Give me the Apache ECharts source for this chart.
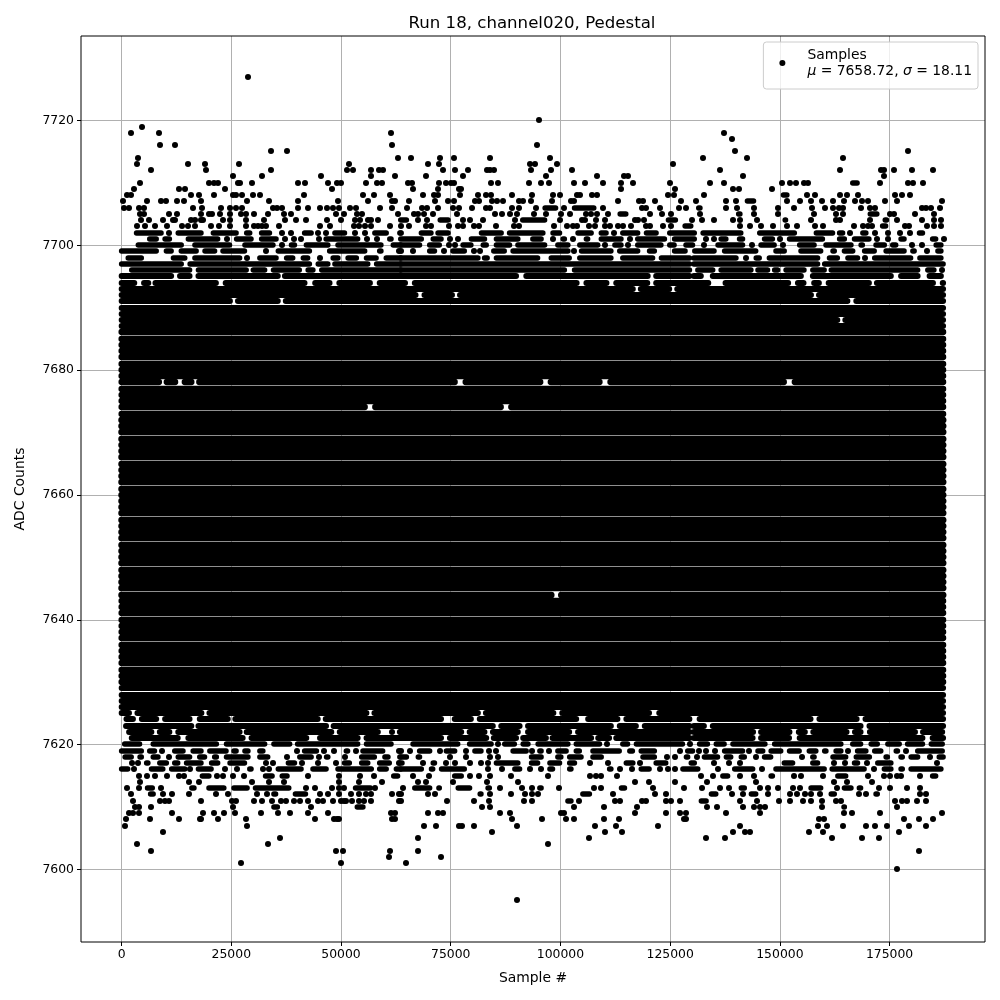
<!DOCTYPE html>
<html><head><meta charset="utf-8">
<script src="https://cdn.jsdelivr.net/npm/echarts@6/dist/echarts.min.js"></script>
<style>html,body{margin:0;padding:0;background:#fff}#c{width:1000px;height:1000px}</style>
</head><body><div id="c"></div>
<script>
const xTicks=[0,25000,50000,75000,100000,125000,150000,175000];
const yTicks=[7600,7620,7640,7660,7680,7700,7720];
// x values are in thousands of samples. A plain number is one sample, a pair is an unbroken run of samples.
const topRows=[
[7727,[28.7]],
[7719,[4.6]],[7718,[2.1,8.5,61.3]],[7716,[8.7,12.1,61.6]],[7715,[34.0,37.6]],[7714,[3.7,63.0]],
[7713,[3.6,15.1,19.0,26.7,51.8]],[7712,[6.7,19.2,34.0,51.3,52.7,56.8,58.6,59.5]],[7711,[25.3,32.0,45.4,56.8,62.2]],
[7710,[4.2,19.9,21.0,21.9,26.5,27.0,29.7,40.1,41.7,47.0,49.0,49.9,55.6,58.1,59.3]],
[7709,[2.8,13.1,14.4,23.5,47.9]],
[7708,[1.2,2.1,15.8,17.6,21.0,25.3,26.0,27.4,29.9,31.5,41.5,55.0,57.5,61.1]],
[7707,[0.3,5.8,9.0,10.1,12.6,14.2,18.1,28.5,33.5,40.1,49.3,56.1,61.6,62.2]],
[7706,[0.5,1.7,4.0,5.1,16.2,18.3,22.6,24.7,26.0,27.4,34.5,35.4,36.5,40.1,42.4,45.3,46.8,48.1,49.5,52.0,53.4,58.8,61.6]],
[7705,[4.2,5.1,10.8,12.6,18.1,19.9,20.6,22.4,24.7,27.2,28.3,30.2,33.3,37.0,38.6,48.8,50.6,53.6,54.7,63.0]],
[7704,[4.4,6.2,9.4,11.7,12.1,15.8,16.7,18.1,18.5,23.1,24.7,28.3,32.4,37.2,39.7,42.0,46.8,50.0,53.1,54.3,56.1,56.8,58.4]],
[7703,[3.5,5.3,7.6,10.3,13.7,15.1,16.7,20.3,22.2,24.7,28.3,30.1,31.0,32.0,32.9,35.8,45.3,47.4,52.9,54.0,55.4,56.8,61.1]],
[7702,[[0.5,1.7],[2.8,9.6],10.8,[12.3,18.7],[20.3,26.7],[27.9,29.8],[31.3,34.3],36.6,38.5,[41.1,43.8],44.7,46.5,[48,51.4],53.1,55.4,[57.1,60.9],[62.8,64.2]]],
[7701,[[0.5,1.3],[2.4,3.6],[5.8,8.5],[9.3,11.5],[14.6,22.5],24.1,[25.6,30.1],[31.3,35.8],37.3,39.2,40.8,[42.7,43.4],45,[46,54.4],56,58.2,[60.5,62]]],
[7700,[[0.5,0.9],[3.2,14.2],[16.1,25.2],[27.5,35.1],36.6,[38.1,40],[41.5,47.6],[48.7,59.7],[61.3,64.2]]],
[7699,[[-0.6,8.5],[9.6,11.9],[13,17.6],[18.4,21.8],[22.5,28.6],32.8,[35.1,43.4],[44.6,45.7],[46.8,56],[58.2,59.7],[60.9,61.6],63.1]],
[7698,[[0.9,5.1],[6.2,7],[8.9,9.6],[11.2,15],[16.1,27.5],28.6,[30.9,35.8],[37,39.6],[40.8,43],45.3,[47.6,49.9],[51,54.1],[55.2,58.6],[59.7,64.2]]],
[7697,[[-0.6,14.2],[15,43.4],[44.2,47.6],[48,56.7],[57.5,64.2]]],
[7696,[[-0.6,0.5],[1.7,16.1],[16.9,29],[29.4,33.2],[34,41.1],[41.9,44.2],[45,64.2]]],
[7695,[[-0.6,11.9],[12.7,16.1],[16.9,36.2],[36.6,64.2]]],
[7720,[95.0]],[7716,[94.6]],[7714,[65.9,72.5,75.7,83.9,97.6]],
[7713,[69.8,72.3,93,94.1,99.1,125.6]],[7712,[73.2,75.9,78.9,83.2,83.9,84.8,93.2,97.8,102.6]],
[7711,[69.3,77.7,96.6,114.4,115.5,108.3]],
[7710,[65.2,66.1,72.3,73.9,75,75.7,84.1,85.7,92.8,95.5,97.3,103,105.7,109.6,113.9,116.5,124.9]],
[7709,[66.4,72.1,76.8,77.3,113.9,126.2]],
[7708,[68.6,71.1,72.1,77.1,81.2,83,84.1,88.9,93.5,98.2,99.8,103.8,104.4,107.1,108.3,124.6,125.8]],
[7707,[65.5,71.4,74.3,75.7,80.5,81.4,84.3,85.5,86.9,90.5,91.4,93.2,98,102.3,103,113,118,118.7,121.5,127.4]],
[7706,[65,68.4,69.5,72.1,75.5,76.8,79.8,83,83.9,88.9,90.5,94.4,[95.9,99.5],100.7,[102.6,108.2],109.8,118.5,119.6,122.6,127.1,128.5]],
[7705,[66.6,67.5,68.9,70.9,76.4,85,86.6,88.6,90,93.9,96.6,100.1,102.1,105.8,106.9,108.3,110.8,[113,115.5],120.5,123.1,125.1]],
[7704,[[63,65.5],67.5,69.5,[72,75],77.7,79.3,82.3,89.6,[90.8,97],99.8,104.9,105.7,108,110.1,117.1,117.6,119,[124,126.8],129.9]],
[7703,[63.6,65.5,69.3,70.5,74.6,76.6,77.7,80.3,81.4,85.3,89.4,90.5,98.5,101.4,102.8,103.7,106.4,107.8,110.1,111.4,113,114.2,116,119.6,120.5,123.3,125.3,[127.8,130.3]]],
[7702,[[63,64.3],[67.7,71.1],[71.5,75],[75.7,76.8],[78.7,79.9],[81.4,87.1],[87.8,96.6],[97.7,100.4],[103.4,107.6],[108.7,111],112.1,[113.6,118.2],[119,122.4],[124.3,131.1]]],
[7701,[[63,68.9],[70.4,73.4],74.9,76.6,[79.1,83.3],[84.8,90.9],[93.1,96.2],98.3,[100,101.5],102.9,[105.3,106.8],[108.7,114.4],115.9,[117,124.3],[125.4,131.1]]],
[7700,[[63,68.5],[69.6,73],74.6,76,[77.2,80.2],[81.8,83.7],[84.8,89],[89.7,97],[98.8,102.3],[103.8,109.1],110.2,[111.8,114.4],115.5,[117,123.5],[124.3,126.5],[128,130.7]]],
[7699,[63.6,66.4,[69.6,71.9],73.4,[74.9,78.7],80.4,81.6,[84.2,87.8],[88.6,102.3],103,[104.2,112.1],[112.9,118.2],[119.7,122],[125.4,129]]],
[7698,[[63,81.8],[82.1,83.9],[84.8,95.4],[97.3,102.6],[103.8,112.1],[113.6,121.6],[122.4,130]]],
[7697,[[63,130]]],[7696,[[63,101.5],[102.6,130]]],[7695,[[63,90.5],[91.6,120.5],[121.2,130]]],
[7718,[137.2]],[7717,[139.2]],[7715,[139.7,179.1]],[7714,[132.4,142.4,164.3]],
[7712,[136.3,163.6,173.1,173.8,175.9,180.2,184.8]],[7711,[141.7,173.8]],
[7710,[134.1,137.2,150.4,152.4,153.6,155.6,156.5,[166,168.2],172.9,179.1,180.4,182.5]],
[7709,[139.4,140.6,148.3]],
[7708,[132.8,[150.2,152.2],156.1,158.1,163.8,165.4,167.9,176.3,177.9,179.7]],
[7707,[130.8,137.8,140.1,[142,144.6],151.7,154.5,157,159.5,162.2,164.7,167.2,168.6,170,174,176.6,187]],
[7706,[[130.9,132.4],137.8,140.2,144,149.5,153.3,157.4,160.2,162,163.4,164.3,168.4,170.6,171.6,182.3,183.4,184.5,186.6]],
[7705,[131.7,[136.6,137.7],[140,141.5],144,149.5,[152.5,153.3],157.7,162.7,164.3,[170,172.7],175.2,176.1,180.7,185.2]],
[7704,[132.3,134.9,139.4,140.8,144.9,[150.6,151.9],157.2,162.7,163.6,170.6,[173.4,174.9],176.8,182.3,185.2,186.8]],
[7703,[[132.6,133.8],[138.7,139.4],140.8,143.1,145.6,148.5,151.6,153.8,157.9,159.9,166.8,169,170,170.9,[172.8,174.7],178.6,179.5,183.5,185.2,186.8]],
[7702,[[131.9,141.7],[142.9,144],[144.8,153.9],[157.7,162.6],[163,164.9],166,[168.3,170.2],171.6,174.7,177.4,179.7,[181.2,183.1],[184.2,185.4],[186.1,187.3]]],
[7701,[133.2,134.9,[136,138.3],[140.2,142.1],[145.9,148.9],150.1,[151.6,160.3],[163,165.3],[166.4,170.9],172.2,174.7,[177,178.9],[182,182.7],[184.2,186.1],187.3]],
[7700,[132.6,[135.3,142.1],143.6,[145.1,149.3],150.8,[153.9,158.4],[159.9,166.8],[167.9,169.4],[171.3,174.4],[175.1,177],180,182.3,[185,187.3]]],
[7699,[[130,135.6],[136.8,145.1],[148.5,151.6],[152.3,153.5],[154.2,159.9],[161.5,163],[164.1,167.2],[168.7,172.1],[173.6,178.9],[179.7,181.2],183.5,[185.4,187.3]]],
[7698,[[129.8,140.6],142.3,[144,145.9],[147,159.2],[160.7,163.7],[164.9,168.3],169.4,[171,180.4],[181.3,187.3]]],
[7697,[[129.8,159.2],[159.6,187.8]]],
[7696,[[130.7,135.3],[136,144],[144.4,147.8],[148.2,150.1],[150.8,156.1],[156.9,160.7],[161.1,182],[183.1,185.7],187]],
[7695,[[129.8,132.6],[134.1,155.4],[156.9,175.9],[177,182],[183.5,187.3]]]
];
const bottomRows=[
[7601,[27.2,49.9]],[7602,[60.9]],[7603,[6.7,48.8,50.4,61.1]],[7604,[3.5,33.3]],[7605,[36.1]],[7606,[9.4]],[7607,[0.8,28.5]],
[7608,[1,6.5,13,17.8,18.2,21.9,28.3,44,48.4,49,49.5,61.6,62.4]],
[7609,[1.7,2.6,4,11.5,18.5,21,23.3,25.8,31.7,35.6,38.3,42.4,47,61.3,62.4]],
[7610,[3,4,6.7,25.4,[34.1,36.1],43.1,[53.1,55.6]]],
[7611,[2.6,8.7,9.8,10.8,18.1,25.2,26,30.1,32.1,34.2,36.3,37.4,39.2,40.6,42.4,44.7,45.8,48.1,49.9,50.6,51.2,52.5,54.1,55.2,56.8,63.1]],
[7612,[2.1,[6,7.8],9.4,11.5,15.3,21.5,24.2,30.8,33.1,[34.1,35.7],[39,42.5],45.3,47,49.5,52.2,54.1,55.6,56.8,61.6,63.1]],
[7613,[1.2,4,[5.3,7.6],9,[15.4,17.1],[19.3,23.9],[25,29.2],[29.9,38.7],42,44,47.9,49.5,50.6,[52.7,57.3],57.7]],
[7614,[4.2,15.3,17.6,29.7,33.5,37,49.5,54.1,59.3]],
[7615,[4,5.8,7.6,10.3,13,14.2,[17.8,20.5],21.7,23.1,25.4,27.9,[32.2,34.9],[36,38.3],42.4,49.5,54.3,57.5,[61.4,63.5]]],
[7616,[[-0.6,2],2.8,[4.3,5.5],[6.2,10],[10.8,15],15.7,[16.9,21],23.5,26.3,[28.6,30.1],32.3,33.7,[35.1,41.5],[43,47.2],[48.7,57.5],[58.2,60.9],[62,64.2]]],
[7617,[2.4,3.7,[5.1,6.6],[8.1,10.8],[11.5,13.4],[14.2,18.7],[19.9,22.5],[24.1,28.6],[29.4,30.5],33,34.5,[37.4,40],41.1,[42.3,43.4],44.7,48.8,[50.2,52.5],[54.1,56.7],[58.2,61.6],63.1]],
[7618,[[0.2,2.8],[3.6,5.1],[6.6,8.9],10.8,[12.3,16.1],[17.2,19.5],[20.6,22.2],[23.3,29.4],[30.9,33.9],37.7,[40,43.8],45,[46.1,47.6],50.9,[54.1,58.2],[59.4,61.3],[62.8,64.2]]],
[7619,[[-0.6,5.1],[5.8,8.1],9.3,[11.5,14.6],[15.7,18.7],[19.5,24.4],[25,26.7],[27.5,29.4],[30.9,32.8],[33.9,35.1],[35.8,37],40,[41.1,45],46.1,48.4,[50.6,52.1],53.3,[54.4,60.1],63.1]],
[7620,[[0.1,4.7],[6.6,22.2],[23.3,33.2],[34.1,38.9],[39.5,54.4],[55.2,62]]],
[7621,[[1.7,13.4],[14.6,28.2],[29,42.7],[44.6,54.4],[55.2,64.2]]],
[7622,[[1.1,7.4],[8.1,11.5],[12.3,27.5],[27.9,48.4],[49.1,59],[59.7,60.5],61.6,[62.8,64.2]]],
[7623,[[0.4,16.5],[16.9,47.2],[47.7,64.2]]],
[7624,[[0.5,3.2],[4,8.5],[9.3,16.1],[17.2,24.8],[25.3,45.3],[45.9,64.2]]],
[7595,[90.0]],[7601,[64.8]],[7602,[72.7]],[7603,[67.5]],[7604,[97.1]],[7605,[67.5,106.4]],[7606,[84.3,110.1,114]],
[7607,[68.9,71.6,76.9,77.6,80.2,90,107.8,112.6,122.2]],
[7608,[88.9,95.7,101.2,103.2,110,113.3,128.1,128.5]],
[7609,[69.8,72,73.2,86.2,88.4,100.2,100.8,116.9,124,127.3,128.5]],
[7610,[82.1,83.9,103,109.9,117.4]],
[7611,[63.6,74.1,80.2,83.7,91.6,93.5,[101.1,103],104.2,112.4,113.5,[116.3,117.4],118.5,119.6,124,125.1,127.2]],
[7612,[63.6,69.8,71.4,[73.8,74.9],[81.1,82.5],83.9,88.7,92,93.5,94.8,[99.6,100.4],[104.5,107.2],111.9,[117.1,118.2],121.6,124]],
[7613,[64.2,[66.2,70.8],[71.7,73],[76.1,79.9],[82.9,84.4],86.3,[88.2,89.4],91.2,93.5,[94.7,96.2],99.6,[101.5,102.3],107.6,109.2,[113.3,115.2],121.2,[122.8,123.9],[125.4,126.5],128.2]],
[7614,[67.5,69.3,75.5,83.2,90.3,117.1,120.1,126]],
[7615,[66.4,70,[75.3,78],79.3,81.4,83.9,88.7,97.1,[102.3,103],106.7,108,109.2,112.8,[123.5,124.3],[130,130.7]]],
[7616,[[63,68.9],[70,71.5],[72.3,78.7],[80.2,81.4],83.4,86.6,[89,91.3],93,95.5,[97,98.8],[101.5,103],[108.3,109.5],[110.6,112.1],113.5,116.2,[117.8,120.8],122.6,124.6,126.2]],
[7617,[[63,64.5],[65.8,67],68.6,[70.4,71.9],74,75.9,79.3,81.8,83.4,[84.8,90.9],[92.8,95.4],[97,100.4],[101.5,103.8],106.7,110.8,[114.4,117.1],118.2,[121.2,124.6]]],
[7618,[[63,65.5],[67,68.5],74.8,78.4,84,85.7,[92.8,96.2],[98.8,100.7],[101.5,105.3],[106.8,109.9],[115.2,116.3],[118.2,122],124.3,126]],
[7619,[63.6,65.8,[67.3,70.8],72.5,[73.4,76.5],78.4,[79.9,82.5],83.7,85.3,[88.6,92.8],93.5,[94.7,96.2],97.5,[98.8,101.9],[103,104.9],[106.8,114],[115.2,117],[117.8,122],[124.6,125.8]]],
[7620,[[65.8,77.2],[78.7,84.8],85.7,[86.7,90.1],[90.9,93.2],[94.3,102.3],[103,109.5],110.6,[113.6,115.9],[116.7,128.4],129.6,[131.1,134.1]]],
[7621,[[63,73.4],[74.2,83.7],[84.2,90.5],[90.9,97.3],[97.6,107.6],[108,111.7],[112.1,130]]],
[7622,[[63,78],[78.7,83.3],[84,90.9],[92,102.6],[103.4,130]]],
[7623,[[63,85.2],[85.9,91.3],[92,112.1],[112.9,117.8],[118.6,130]]],
[7624,[[63,73.4],[74.2,74.9],[75.3,80.2],[81,104.2],[105.7,113.6],[114.4,130]]],
[7600,[176.6]],[7603,[181.8]],[7605,[133.1,137.4,161.8,168.8,172.5]],[7606,[139.4,142,143.3,156.7,159.9,177.2]],
[7607,[[132.6,133.8],140.8,158.6,160.8,164.3,169.7,171.6,174.5,179.5,183.2]],
[7608,[159,160,178.2,181.6,185]],
[7609,[137.8,145.4,164.7,166.5,172.9,187]],
[7610,[[129.2,130.3],133.5,135.6,141.7,144.2,145.4,146.7,159.5,[164,165.3],176.6]],
[7611,[[131.5,133.8],140.8,[142.9,143.6],144.7,149.7,152.4,155.2,157,159.5,162.7,164,[168.7,169.4],176.3,177.9,179,181.3,183.3,[186.9,187.4]]],
[7612,[[129.6,130.7],[133.8,136],139.2,141.7,[142.9,145.1],147.2,152.4,154,155.8,157.1,159.2,[161.1,163],168.1,169.7,[171.3,172.8],[178.2,179.3],181.9,183.3]],
[7613,[132.3,136.3,138.5,[140.6,142.5],145.4,147.2,149.5,153.1,154.5,[156.5,159.9],[160.7,161.8],163,[164.1,166.8],[167.5,169],172.7,175,179,182,[184.2,185]]],
[7614,[133.5,144.5,162.4,165.2,170.9,[184.6,185.4]]],
[7615,[132,134.7,[136.4,138.7],141,144,[147.4,148.9],153.3,154.7,159.9,[162.6,165.6],170,173.8,175.2,176.6,177.7,182,[184.2,186.1]]],
[7616,[[127.3,131.9],136,[139.1,144.4],146,[148.5,160.7],[161.3,169.8],171.5,[173.2,175.9],[177,178.5],[179.3,187.3]]],
[7617,[[127.3,128.4],[129.2,131.1],134.9,[136.4,137.2],138.3,140.8,[142.1,143.2],[144.8,145.9],[150.4,153.5],[155.4,156.1],[156.9,159.2],162.4,164.9,[166.4,168.3],169.8,[171.7,175.9],[177.4,178.5],[180.1,181.2],[183.5,184.6],185.7,[186.9,187.6]]],
[7618,[[128.1,129.6],131.1,[132.2,136.4],[137.2,139.4],[140.6,142.5],144.6,[145.9,148.5],155,[156.9,158.4],[161.5,165.6],[166.8,171],[173.6,175.1],[177,178.5],[179.3,182],184.2,[185.7,187.8]]],
[7619,[127.3,[128.4,130.7],131.5,133.1,135.3,[136.8,142.1],142.9,[144.4,146.7],[147.4,150.8],[151.6,155],[156.1,158.8],[159.6,161.1],[162.2,164.5],165.6,[167.1,170.2],[171,173.6],[175.9,177.4],178.7,[180.8,187.6]]],
[7620,[[134.9,137.9],[138.7,147.2],[148.2,164.5],[166,169],[170.2,172.8],[174,177.8],[178.5,183.1],[183.9,187.6]]],
[7621,[[129.8,144.4],[145.1,152.7],[153.9,183.1],[184.2,187.8]]],
[7622,[[129.8,144.5],[145.1,152.8],[153.7,156.3],[157,165.8],[166.5,169],[169.9,181.4],[182,187.6]]],
[7623,[[129.8,133.3],[134.1,169],[169.8,187.8]]],
[7624,[[129.8,130],[131.1,157.6],[158.4,168.1],[168.9,187.8]]]
];
// Rows with a visible hole somewhere in the solid block.
const brokenRows=[
[7694,[[-0.6,3.5],[4.5,6.7],[7.1,22.1],[23.1,42.3],[43.5,48],[49,57.2],[58.2,65.2],[66.2,104.3],[105.3,111.1],[112.1,120.4],[121.2,134.3],[135.3,136],[137,152.5],[153.5,156],[157.2,159.5],[160.5,170.9],[171.5,185.5],[186.5,187.8]]],
[7693,[[-0.6,117.1],[117.7,125.4],[126,187.8]]],
[7692,[[-0.6,67.6],[68.4,75.9],[76.5,157.7],[158.3,187.8]]],
[7691,[[-0.6,25.3],[25.9,36.2],[36.8,166],[166.8,187.8]]],
[7688,[[-0.6,163.7],[164.3,187.8]]],
[7678,[[-0.6,9.1],[9.7,12.8],[13.8,16.5],[17.1,76.5],[77.8,96],[97.2,109.5],[110.8,151.5],[152.8,187.8]]],
[7674,[[-0.6,56],[57.2,87],[88.2,187.8]]],
[7644,[[-0.6,98.5],[99.6,187.8]]],
[7625,[[-0.6,2.3],[3,18.8],[19.4,56.4],[57,81.8],[82.4,99],[99.8,120.8],[121.9,187.8]]]
];
const solidLevels=[7626,7627,7628,7629,7630,7631,7632,7633,7634,7635,7636,7637,7638,7639,7640,7641,7642,7643,7645,7646,7647,7648,7649,7650,7651,7652,7653,7654,7655,7656,7657,7658,7659,7660,7661,7662,7663,7664,7665,7666,7667,7668,7669,7670,7671,7672,7673,7675,7676,7677,7679,7680,7681,7682,7683,7684,7685,7686,7687,7689,7690];
const solidSpan=[-0.6,187.8];

const sampleMarks=[];
[...topRows,...bottomRows,...brokenRows].forEach(([lv,items])=>items.forEach(it=>{
  if(Array.isArray(it)) sampleMarks.push([it[0]*1000,it[1]*1000,lv]);
  else sampleMarks.push([it*1000,it*1000,lv]);
}));
solidLevels.forEach(lv=>sampleMarks.push([solidSpan[0]*1000,solidSpan[1]*1000,lv]));

const FONT='"DejaVu Sans"';
const CAP=600; // run ends are read at the marker edge
const rowWidth=lv=>{const d=Math.abs(lv-7658);return d<=14?6.7:d<=28?6.3:d<38?5.85:5.4;};
const chart=echarts.init(document.getElementById('c'),null,{renderer:'canvas'});
const axisCommon={
  axisLine:{show:false,onZero:false},
  axisTick:{show:true,length:4,lineStyle:{color:'#000',width:1}},
  splitLine:{show:true,lineStyle:{color:'#b0b0b0',width:1}},
  nameLocation:'middle',
  nameTextStyle:{color:'#000',fontFamily:FONT,fontSize:13.9}
};
chart.setOption({
  animation:false,backgroundColor:'#fff',
  title:{text:'Run 18, channel020, Pedestal',left:527,top:10,textAlign:'center',
    textStyle:{fontFamily:FONT,fontSize:16.6,fontWeight:'normal',color:'#000',align:'center'}},
  grid:{left:81,right:15,top:36,bottom:58,show:true,borderColor:'#000',borderWidth:1,backgroundColor:'transparent',z:5},
  xAxis:{type:'value',min:-9250,max:196740,name:'Sample #',nameGap:29,...axisCommon,
    axisTick:{...axisCommon.axisTick,customValues:xTicks},
    axisLabel:{customValues:xTicks,color:'#000',fontFamily:FONT,fontSize:12.4,margin:7,formatter:v=>String(v)}},
  yAxis:{type:'value',min:7588.39,max:7733.54,name:'ADC Counts',nameGap:54,...axisCommon,
    axisTick:{...axisCommon.axisTick,customValues:yTicks},
    axisLabel:{customValues:yTicks,color:'#000',fontFamily:FONT,fontSize:12.4,margin:7,formatter:v=>String(v)}},
  legend:{show:true,right:22,top:42,orient:'vertical',padding:[6,6,11,16],
    backgroundColor:'rgba(255,255,255,0.8)',borderColor:'#ccc',borderWidth:1,borderRadius:3,
    itemWidth:6,itemHeight:6,icon:'circle',itemStyle:{color:'#000'},
    data:['Samples'],
    formatter:()=>'{a|Samples}\n{i|μ}{a| = 7658.72, }{i|σ}{a| = 18.11}',
    textStyle:{padding:[0,0,0,17],rich:{
      a:{fontFamily:FONT,fontSize:13.9,color:'#000',lineHeight:16},
      i:{fontFamily:FONT,fontSize:13.9,fontStyle:'italic',color:'#000',lineHeight:16}}}
  },
  series:[
    {type:'custom',name:'Samples',silent:true,clip:true,z:3,itemStyle:{color:'#000'},data:sampleMarks,
      encode:{x:[0,1],y:2},
      renderItem:(p,api)=>{
        const v0=api.value(0), v1=api.value(1), lv=api.value(2);
        const Y=Math.round(api.coord([v0,lv])[1]-0.25); // marks sit on whole pixels, as in the reference
        if(v0===v1){
          return {type:'circle',shape:{cx:Math.round(api.coord([v0,lv])[0]),cy:Y,r:3},style:{fill:'#000'}};
        }
        const mid=(v0+v1)/2;
        const xa=api.coord([Math.min(v0+CAP,mid),lv])[0];
        const xb=api.coord([Math.max(v1-CAP,mid),lv])[0];
        return {type:'line',shape:{x1:xa,y1:Y,x2:xb,y2:Y},
          style:{stroke:'#000',lineWidth:rowWidth(lv),lineCap:'round',fill:null}};
      }}
  ]
});
</script></body></html>
